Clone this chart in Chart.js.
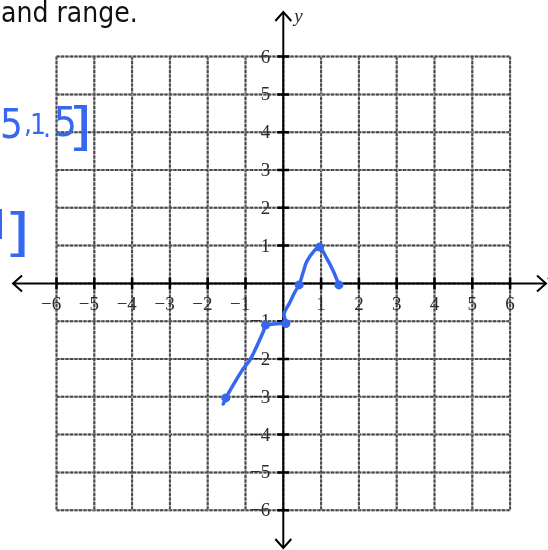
<!DOCTYPE html>
<html>
<head>
<meta charset="utf-8">
<script src="https://cdn.jsdelivr.net/npm/chart.js@4"></script>
<style>
  html, body { margin: 0; padding: 0; background: #fff; }
  #wrap { width: 548px; height: 550px; position: relative; }
</style>
</head>
<body>
<div id="wrap"><canvas id="graph"></canvas></div>
<script>
// grid and tick values
const gridValues = [-6, -5, -4, -3, -2, -1, 0, 1, 2, 3, 4, 5, 6];
const tickValues = [-6, -5, -4, -3, -2, -1, 1, 2, 3, 4, 5, 6];

// sketched curve
const curveX = [-1.59, -1.52, -1.28, -1.06, -0.88, -0.71, -0.53, -0.47, -0.31, -0.09, 0.06, 0.02, 0.18, 0.31, 0.42, 0.53, 0.62, 0.8, 0.96, 1.15, 1.33, 1.47];
const curveY = [-3.19, -3.03, -2.61, -2.26, -2.02, -1.68, -1.28, -1.13, -1.08, -1.06, -1.04, -0.8, -0.49, -0.22, -0.04, 0.31, 0.58, 0.84, 0.96, 0.66, 0.31, -0.04];

// marked points
const dotX = [-1.52, -0.47, 0.07, 0.42, 0.96, 1.47];
const dotY = [-3.03, -1.1, -1.06, -0.04, 0.96, -0.04];

const blue = '#3568ee';
const labelFont = '19px "Liberation Serif", "DejaVu Serif", serif';

function dotted(ctx, x1, y1, x2, y2) {
    ctx.setLineDash([]);
    ctx.strokeStyle = '#a8a8a8';
    ctx.lineWidth = 2;
    ctx.beginPath(); ctx.moveTo(x1, y1); ctx.lineTo(x2, y2); ctx.stroke();
    ctx.setLineDash([3, 1.5]);
    ctx.strokeStyle = '#4a4a4a';
    ctx.beginPath(); ctx.moveTo(x1, y1); ctx.lineTo(x2, y2); ctx.stroke();
    ctx.setLineDash([]);
}

function arrowHead(ctx, x, y, dx, dy) {
    // open chevron pointing along (dx, dy)
    const len = 9, half = 8;
    const nx = -dy, ny = dx;
    ctx.beginPath();
    ctx.moveTo(x - dx * len + nx * half, y - dy * len + ny * half);
    ctx.lineTo(x, y);
    ctx.lineTo(x - dx * len - nx * half, y - dy * len - ny * half);
    ctx.stroke();
}

function bracket(ctx, x, y, sx, sy) {
    ctx.save();
    ctx.translate(x, y);
    ctx.scale(sx, sy);
    ctx.font = '26px "DejaVu Sans", sans-serif';
    ctx.fillText(']', 0, 0);
    ctx.restore();
}

const axesPlugin = {
    id: 'axesGrid',
    beforeDatasetsDraw(chart) {
        const ctx = chart.ctx;
        const xs = chart.scales.x, ys = chart.scales.y;
        const px = v => xs.getPixelForValue(v);
        const py = v => ys.getPixelForValue(v);
        ctx.save();

        gridValues.forEach(v => {
            dotted(ctx, px(v), py(6), px(v), py(-6));
            dotted(ctx, px(-6), py(v), px(6), py(v));
        });

        // axes with arrows
        ctx.strokeStyle = '#000';
        ctx.lineWidth = 2;
        ctx.lineCap = 'butt';
        const x0 = px(0), y0 = py(0);
        const left = px(-7.15), right = px(6.95), top = py(7.18), bottom = py(-7.0);
        ctx.beginPath();
        ctx.moveTo(left, y0); ctx.lineTo(right, y0);
        ctx.moveTo(x0, top); ctx.lineTo(x0, bottom);
        ctx.stroke();
        arrowHead(ctx, right, y0, 1, 0);
        arrowHead(ctx, left, y0, -1, 0);
        arrowHead(ctx, x0, top, 0, -1);
        arrowHead(ctx, x0, bottom, 0, 1);

        // tick marks
        ctx.lineWidth = 2.5;
        ctx.beginPath();
        tickValues.forEach(v => {
            ctx.moveTo(px(v), y0 - 6); ctx.lineTo(px(v), y0 + 6);
            ctx.moveTo(x0 - 6, py(v)); ctx.lineTo(x0 + 6, py(v));
        });
        ctx.stroke();

        // tick labels
        ctx.font = labelFont;
        ctx.fillStyle = '#2a2a2a';
        ctx.textBaseline = 'middle';
        const minusW = ctx.measureText('\u2212').width;
        tickValues.forEach(v => {
            const txt = v < 0 ? '\u2212' + Math.abs(v) : String(v);
            ctx.textAlign = 'center';
            ctx.fillText(txt, px(v) - (v < 0 ? minusW / 2 : 0), y0 + 22);
            ctx.textAlign = 'right';
            ctx.fillText(txt, x0 - 13, py(v) + 1);
        });

        // axis names
        ctx.font = 'italic 19px "Liberation Serif", "DejaVu Serif", serif';
        ctx.textAlign = 'left';
        ctx.fillText('y', x0 + 11, py(7.05));
        ctx.fillText('x', px(6.99), y0 - 9);
        ctx.restore();
    },
    afterDraw(chart) {
        const ctx = chart.ctx;
        ctx.save();
        // heading line cut off at the top
        ctx.fillStyle = '#111';
        ctx.font = '28px "DejaVu Sans Condensed", "DejaVu Sans", sans-serif';
        ctx.textAlign = 'left';
        ctx.textBaseline = 'alphabetic';
        ctx.fillText('and range.', 1, 22);

        // handwritten notes
        ctx.fillStyle = blue;
        ctx.font = '40px "DejaVu Sans Condensed", "DejaVu Sans", sans-serif';
        ctx.fillText('5', 0, 138);
        ctx.fillText('5', 54, 136);
        ctx.font = '28px "DejaVu Sans Condensed", "DejaVu Sans", sans-serif';
        ctx.fillText(',', 24, 133);
        ctx.fillText('1', 30, 134);
        ctx.fillText('.', 43, 137);

        bracket(ctx, 68, 144, 2.4, 2.0);
        bracket(ctx, 4, 250, 2.6, 2.0);
        ctx.fillRect(0, 209, 2, 30);
        ctx.restore();
    }
};

new Chart(document.getElementById('graph'), {
    type: 'scatter',
    data: {
        datasets: [{
            data: curveX.map((v, i) => ({x: v, y: curveY[i]})),
            showLine: true,
            tension: 0.3,
            borderColor: blue,
            borderWidth: 3.5,
            pointRadius: 0,
            borderCapStyle: 'round',
            borderJoinStyle: 'round'
        }, {
            data: dotX.map((v, i) => ({x: v, y: dotY[i]})),
            pointRadius: 4.5,
            pointBackgroundColor: blue,
            pointBorderWidth: 0
        }]
    },
    options: {
        responsive: true,
        maintainAspectRatio: false,
        animation: false,
        layout: { padding: 0, autoPadding: false },
        plugins: { legend: { display: false }, tooltip: { enabled: false } },
        scales: {
            x: { type: 'linear', display: false, min: -7.495, max: 7.003 },
            y: { type: 'linear', display: false, min: -7.053, max: 7.497 }
        }
    },
    plugins: [axesPlugin]
});
</script>
</body>
</html>
